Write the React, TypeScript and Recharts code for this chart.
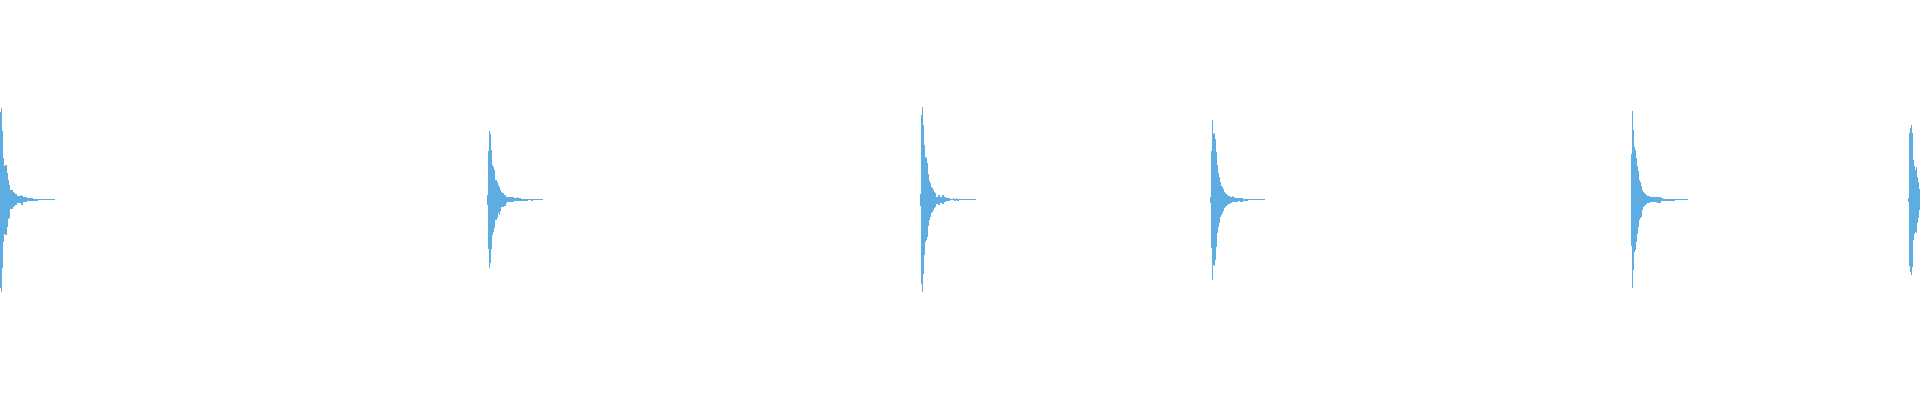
import { AreaChart, Area, XAxis, YAxis } from "recharts";

// start of each burst on the time axis
const burstStarts = [0, 487, 920, 1210, 1631, 1908];

// envelope of each burst: [offset, upper, lower]
const burst1 = [
  [0, 88, -88], [1, 92, -92], [2, 69, -68], [3, 42, -42], [4, 34, -34],
  [5, 35, -35], [7, 27, -27], [8, 20, -19], [9, 15, -18], [10, 10, -9],
  [13, 8, -7], [14, 7, -6], [15, 6, -5], [17, 4, -3], [21, 5, -5],
  [22, 4, -5], [23, 3, -2], [27, 2, -1], [32, 2, -1], [33, 1, -1],
  [38, 1, 0], [55, 1, 0],
];

const burst2 = [
  [0, 5, -5], [1, 49, -49], [2, 69, -68], [3, 66, -63], [4, 50, -49],
  [5, 35, -35], [6, 33, -32], [7, 30, -28], [8, 20, -20], [10, 18, -18],
  [11, 15, -13], [12, 13, -15], [13, 10, -11], [14, 8, -7], [15, 7, -7],
  [17, 5, -6], [19, 3, -3], [20, 3, -2], [26, 3, -2], [27, 2, -1],
  [30, 3, -1], [31, 2, -1], [34, 1, -1], [41, 1, 0], [44, 1, -1],
  [46, 1, 0], [56, 1, 0],
];

const burst3 = [
  [0, 6, -6], [1, 85, -84], [2, 93, -92], [3, 75, -74], [4, 55, -55],
  [5, 43, -42], [6, 42, -40], [7, 37, -37], [8, 26, -26], [9, 19, -20],
  [10, 17, -17], [11, 13, -13], [12, 12, -12], [13, 10, -10], [14, 8, -8],
  [15, 7, -7], [16, 3, -4], [18, 5, -5], [20, 3, -3], [22, 5, -4],
  [24, 3, -2], [26, 2, -1], [30, 1, 0], [33, 2, 0], [34, 1, -1],
  [36, 2, 0], [37, 1, -1], [39, 1, 0], [56, 1, 0],
];

const burst4 = [
  [0, 3, -3], [1, 49, -48], [2, 80, -80], [3, 66, -65], [4, 67, -66],
  [5, 61, -60], [6, 48, -47], [7, 35, -33], [8, 27, -27], [9, 23, -23],
  [10, 18, -17], [11, 14, -15], [12, 13, -13], [13, 11, -11], [14, 8, -8],
  [15, 7, -7], [16, 6, -6], [17, 5, -5], [18, 4, -4], [20, 3, -3],
  [22, 4, -2], [23, 3, -2], [25, 2, -2], [28, 2, -1], [30, 2, -2],
  [33, 1, -1], [38, 1, 0], [55, 1, 0],
];

const burst5 = [
  [0, 46, -46], [1, 89, -88], [2, 70, -70], [3, 53, -52], [4, 50, -50],
  [5, 42, -42], [6, 34, -34], [7, 29, -27], [8, 20, -20], [9, 18, -18],
  [10, 14, -17], [11, 10, -10], [12, 8, -7], [13, 7, -6], [14, 6, -5],
  [15, 5, -4], [16, 4, -3], [19, 3, -2], [26, 3, -3], [30, 2, -1],
  [32, 1, -1], [44, 1, 0], [57, 1, 0],
];

const burst6 = [
  [0, 2, -2], [1, 67, -66], [2, 72, -72], [3, 75, -75], [4, 67, -67],
  [5, 40, -40], [6, 34, -34], [7, 30, -32], [8, 33, -33], [9, 23, -23],
  [10, 18, -18], [11, 11, -10], [12, 11, -10],
];

const bursts = [burst1, burst2, burst3, burst4, burst5, burst6];

const data = bursts.flatMap((burst, i) => {
  const rows: { t: number; range: number[] | null }[] = burst.map(([dx, hi, lo]) => ({
    t: burstStarts[i] + dx,
    range: [lo, hi],
  }));
  if (i < bursts.length - 1) {
    // break the area between bursts
    rows.push({ t: burstStarts[i] + burst[burst.length - 1][0] + 1, range: null });
  }
  return rows;
});

export default function App() {
  return (
    <div>
      <style>{"body{margin:0;background:#fff}"}</style>
      <AreaChart width={1920} height={400} data={data} margin={{ top: 0, right: 0, bottom: 0, left: 0 }}>
        <XAxis dataKey="t" type="number" domain={[0, 1920]} allowDataOverflow hide />
        <YAxis type="number" domain={[-200, 200]} allowDataOverflow hide />
        <Area
          dataKey="range"
          type="stepAfter"
          fill="#5dade2"
          fillOpacity={1}
          stroke="none"
          connectNulls={false}
          dot={false}
          activeDot={false}
          isAnimationActive={false}
        />
      </AreaChart>
    </div>
  );
}
